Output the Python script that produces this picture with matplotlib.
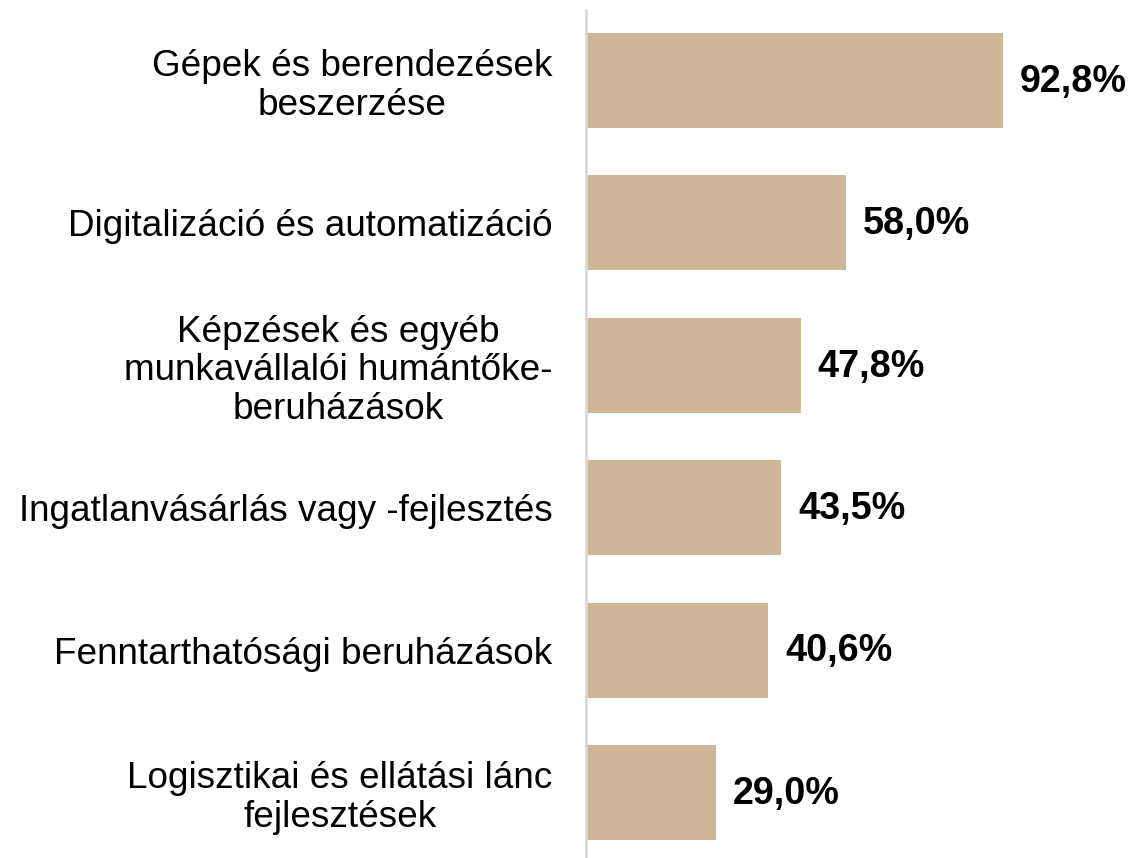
import matplotlib.pyplot as plt

# adatok
categories = [
    "Gépek és berendezések\nbeszerzése",
    "Digitalizáció és automatizáció",
    "Képzések és egyéb\nmunkavállalói humántőke-\nberuházások",
    "Ingatlanvásárlás vagy -fejlesztés",
    "Fenntarthatósági beruházások",
    "Logisztikai és ellátási lánc\nfejlesztések",
]
values = [92.8, 58.0, 47.8, 43.5, 40.6, 29.0]
value_labels = ["92,8%", "58,0%", "47,8%", "43,5%", "40,6%", "29,0%"]

bar_color = "#CDB797"

plt.rcParams['font.family'] = ['Liberation Sans', 'DejaVu Sans']

fig = plt.figure(figsize=(11.32, 8.58), dpi=100)
ax = fig.add_axes([586 / 1132, 0.0, 1 - 586 / 1132, 848 / 858])

y = list(range(len(categories)))
ax.barh(y, values, height=0.667, color=bar_color)

ax.set_xlim(0, 121.6)
ax.set_ylim(5.46, -0.495)

# kategória feliratok, több soros esetén középre zárva
ax.set_yticks(y)
ax.set_yticklabels(categories, fontsize=26.6, linespacing=1.12,
                   multialignment='center')
ax.tick_params(axis='y', length=0, pad=24)
ax.set_xticks([])

for s in ['top', 'right', 'bottom']:
    ax.spines[s].set_visible(False)
ax.spines['left'].set_color('#D9D9D9')
ax.spines['left'].set_linewidth(2)

# értékfeliratok
for yi, v, t in zip(y, values, value_labels):
    ax.annotate(t, (v, yi), xytext=(12, -1), textcoords='offset points',
                va='center', ha='left', fontsize=27.2, fontweight='bold')

fig.savefig("out.png", dpi=100)
